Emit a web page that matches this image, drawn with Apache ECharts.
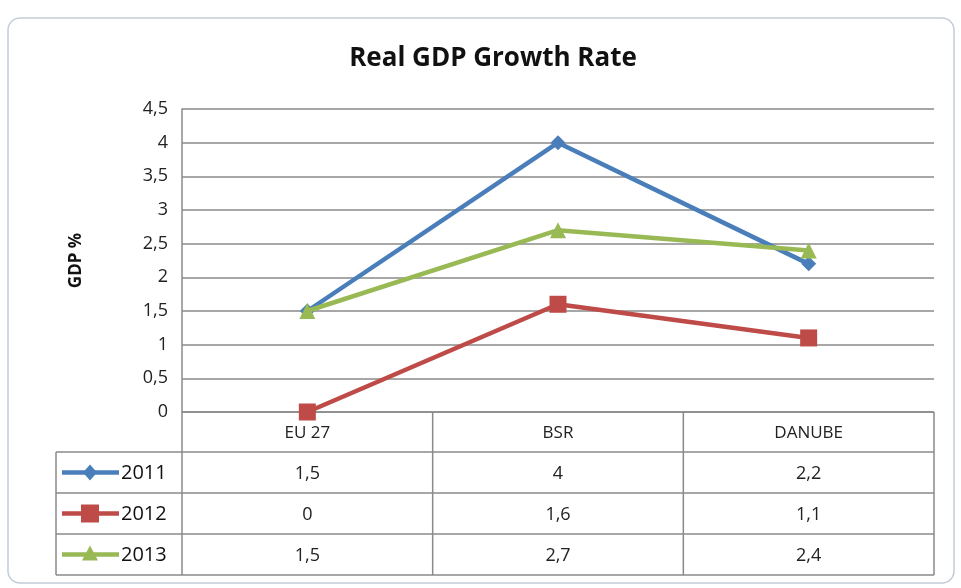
<!DOCTYPE html>
<html><head><meta charset="utf-8">
<script src="https://cdn.jsdelivr.net/npm/echarts@6/dist/echarts.min.js"></script>
<style>html,body{margin:0;padding:0;background:#fff}#c{width:961px;height:588px}</style>
</head><body><div id="c"></div>
<script>
const categories = ['EU 27', 'BSR', 'DANUBE'];
const seriesNames = ['2011', '2012', '2013'];
const values2011 = [1.5, 4, 2.2];
const values2012 = [0, 1.6, 1.1];
const values2013 = [1.5, 2.7, 2.4];
const yTicks = [0, 0.5, 1, 1.5, 2, 2.5, 3, 3.5, 4, 4.5];

const allValues = [values2011, values2012, values2013];
const colors = ['#4A7EBB', '#BE4B48', '#98B954'];
const symbols = ['diamond', 'rect', 'triangle'];
const symbolSizes = [15, 17, 16];
const FONT = 'Open Sans';
const fmt = v => String(v).replace('.', ',');

const chart = echarts.init(document.getElementById('c'), null, {renderer: 'canvas'});
const gridL = 182, gridR = 934, gridT = 109, gridB = 412;
chart.setOption({
  animation: false,
  backgroundColor: '#fff',
  title: {text: 'Real GDP Growth Rate', left: 488, top: 41, textAlign: 'center',
    textStyle: {fontFamily: FONT, fontWeight: 'bold', fontSize: 26, color: '#111'}},
  grid: {left: gridL, right: 961 - gridR, top: gridT, bottom: 588 - gridB},
  xAxis: {type: 'category', data: categories, boundaryGap: true,
    axisLine: {show: false}, axisTick: {show: false}, axisLabel: {show: false}},
  yAxis: {type: 'value', min: yTicks[0], max: yTicks[yTicks.length - 1], interval: 0.5,
    name: 'GDP %', nameLocation: 'middle', nameGap: 97, nameRotate: 90,
    nameTextStyle: {fontFamily: FONT, fontWeight: 'bold', fontSize: 17, color: '#111'},
    axisLine: {show: true, lineStyle: {color: '#8a8a8a', width: 1.5}},
    axisTick: {show: false},
    axisLabel: {fontFamily: FONT, fontSize: 18, color: '#222', margin: 14, formatter: v => fmt(v)},
    splitLine: {lineStyle: {color: '#8a8a8a', width: 1.5}}},
  series: allValues.map((vals, i) => ({
    name: seriesNames[i], type: 'line', data: vals,
    symbol: symbols[i], symbolSize: symbolSizes[i], showSymbol: true,
    lineStyle: {color: colors[i], width: 4.5},
    itemStyle: {color: colors[i]}, z: 3 + (i === 2 ? 1 : 0)
  }))
});

// Data table built from arrays, positioned via axis scale
function buildTable() {
  const els = [];
  const lineColor = '#8a8a8a';
  const rowH = 41;
  const headTop = gridB, headBot = gridB + 40;
  const tableLeft = 56;
  const cx = categories.map((c, i) => chart.convertToPixel({xAxisIndex: 0}, i));
  const half = (cx[1] - cx[0]) / 2;
  const edges = [cx[0] - half].concat(cx.map(x => x + half));
  const bottom = headBot + rowH * seriesNames.length;
  const L = (x1, y1, x2, y2) => els.push({type: 'line', shape: {x1, y1, x2, y2},
    style: {stroke: lineColor, lineWidth: 1.5}, z: 1});
  L(edges[0], headTop, edges[edges.length - 1], headTop);
  for (let r = 0; r <= seriesNames.length; r++) {
    const y = headBot + r * rowH;
    L(tableLeft, y, edges[edges.length - 1], y);
  }
  edges.forEach(x => L(x, headTop, x, bottom));
  L(tableLeft, headBot, tableLeft, bottom);
  categories.forEach((c, i) => els.push({type: 'text', x: cx[i], y: (headTop + headBot) / 2 + 1,
    style: {text: c, fontFamily: FONT, fontSize: 17, fill: '#222', align: 'center', verticalAlign: 'middle'}}));
  seriesNames.forEach((s, r) => {
    const yc = headBot + r * rowH + rowH / 2;
    els.push({type: 'line', shape: {x1: 62, y1: yc, x2: 119, y2: yc},
      style: {stroke: colors[r], lineWidth: 4.5}});
    let sym;
    if (r === 0) sym = {type: 'polygon', shape: {points: [[90, yc - 8], [97, yc], [90, yc + 8], [83, yc]]}};
    else if (r === 1) sym = {type: 'rect', shape: {x: 81, y: yc - 9, width: 18, height: 18}};
    else sym = {type: 'polygon', shape: {points: [[90, yc - 9], [98, yc + 6], [82, yc + 6]]}};
    sym.style = {fill: colors[r]};
    els.push(sym);
    els.push({type: 'text', x: 121, y: yc + 1,
      style: {text: s, fontFamily: FONT, fontSize: 20, fill: '#111', align: 'left', verticalAlign: 'middle'}});
    allValues[r].forEach((v, i) => els.push({type: 'text', x: cx[i], y: yc + 1,
      style: {text: fmt(v), fontFamily: FONT, fontSize: 18, fill: '#222', align: 'center', verticalAlign: 'middle'}}));
  });
  els.push({type: 'rect', shape: {x: 8, y: 18, width: 946, height: 565, r: 12},
    style: {fill: 'none', stroke: '#c3ccd6', lineWidth: 1.5}, z: 0});
  chart.setOption({graphic: els});
}
buildTable();
</script></body></html>
